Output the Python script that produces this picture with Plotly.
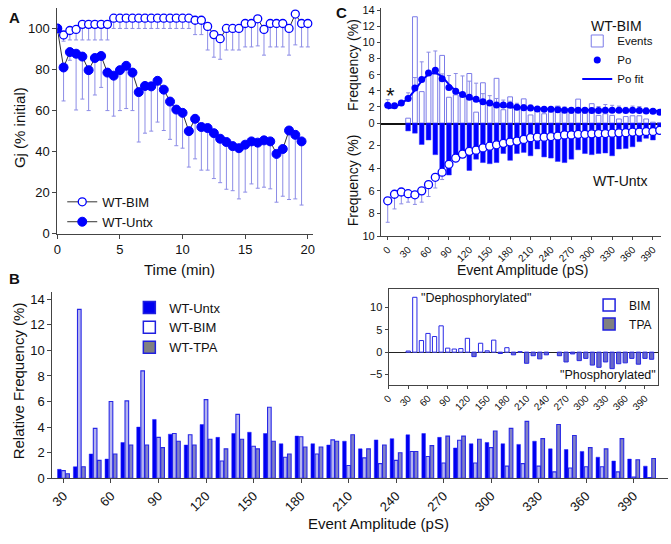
import plotly.graph_objects as go

W, H = 671, 544

# ---- panel A: Gj over time
time_bim = [i * 0.5 for i in range(41)]
time_untx = [i * 0.5 for i in range(40)]
gj_bim = [100, 96.8, 99, 99.5, 102, 102, 102, 102, 102,
          105, 105, 105, 105, 105, 105, 105, 105, 105, 105, 105, 105, 105,
          104, 104, 101, 97, 95, 100, 100, 100, 102.4, 102.4, 104.7, 99.5,
          102.4, 102.4, 102.4, 100, 107, 102.4, 102.4]
gj_bim_err = [0, 3, 4.6, 5.1, 7.6, 7.6, 7.6, 7.6, 7.6,
              5, 5, 5, 5, 5, 5, 5, 5, 5, 5, 5, 5, 5,
              7, 7, 11.5, 11, 10, 10.5, 10.5, 10.5, 11.4, 11.4, 13.2, 12.5,
              11.4, 11.4, 11.4, 13, 15, 11.4, 11.4]
gj_untx = [100, 81, 88.5, 87.7, 86.3, 79.7, 85.6, 86.6, 78.5, 77,
           79.7, 81.8, 78.5, 69, 72, 71.8, 74.5, 70.2, 64.4, 60.5,
           58.9, 50, 56, 52, 51.5, 49, 46.3, 44.7, 42.7, 41.7,
           43.4, 45, 44.4, 45.5, 45, 38.9, 41.3, 50.3, 48.2, 45]
gj_untx_err = [0, 16.3, 4, 27.4, 20.7, 19.7, 18, 15.3, 18.5, 19.7,
               19.7, 20.8, 18.5, 24.3, 23, 21.8, 20.1, 19.9, 18.4, 17.6,
               17.2, 17.5, 19.5, 21, 20.5, 22.1, 21.4, 23, 21.7, 24.7,
               23.1, 20.7, 22.2, 22.8, 23.1, 23.5, 23, 33.6, 31.2, 31]

# ---- panel B: amplitude histograms (%)
amp_bins = list(range(30, 401, 10))
freq_untx = [0.7, 0.9, 1.9, 1.5, 2.8, 4.0, 4.6, 3.45, 2.6, 4.2, 3.2, 3.5, 3.6,
             3.5, 2.7, 3.3, 2.7, 2.6, 2.9, 2.3, 3.0, 3.1, 3.4, 3.5, 3.2, 2.37,
             2.7, 2.8, 2.7, 2.65, 2.9, 2.3, 2.25, 2.1, 1.65, 1.35, 1.5, 0.95]
freq_bim = [0.6, 13.2, 3.9, 6.0, 6.05, 8.4, 3.2, 3.5, 3.4, 6.15, 1.35, 5.0, 2.5,
            5.55, 1.65, 3.25, 1.9, 3.0, 1.0, 1.6, 1.15, 1.4, 2.1, 1.7, 1.2, 2.97,
            1.2, 2.4, 0.95, 1.15, 0.95, 0.5, 0.8, 0.9, 0.9, 0.5, 0.1, 0.05]
freq_tpa = [0.35, 0.9, 1.4, 1.9, 2.6, 2.6, 2.4, 2.9, 2.6, 3.05, 2.3, 3.05, 2.3,
            2.9, 1.9, 2.45, 2.45, 2.9, 3.4, 2.3, 2.6, 2.0, 2.1, 2.55, 3.3, 3.3,
            3.05, 3.7, 3.9, 4.45, 3.1, 4.2, 3.35, 2.4, 2.3, 3.1, 1.45, 1.55]
# inset: BIM minus TPA
freq_diff = [0.25, 12.3, 2.6, 4.2, 3.5, 5.9, 0.9, 0.7, 0.8, 3.1, -1.0, 2.0, 0.3,
             2.7, -0.3, 1.0, -0.6, 0.1, -2.5, -0.8, -1.5, -0.6, 0.0, -0.8, -2.2,
             -0.4, -1.9, -1.4, -2.9, -3.4, -2.2, -3.7, -2.6, -2.4, -1.4, -2.7,
             -1.4, -1.6]

# ---- panel C: open probability vs amplitude
amp_po = list(range(0, 401, 10))
po_bim = [2.2, 2.15, 2.5, 3.05, 4.35, 5.4, 6.2, 6.55, 5.5, 4.4, 3.95, 3.55, 3.2,
          2.95, 2.65, 2.5, 2.25, 2.25, 2.2, 1.95, 1.9, 1.85, 1.75, 1.7, 1.7,
          1.65, 1.6, 1.6, 1.6, 1.6, 1.55, 1.55, 1.6, 1.6, 1.6, 1.55, 1.6, 1.55,
          1.5, 1.45, 1.35]
po_bim_err = [0.7, 0, 0, 0.7, 1.3, 2.2, 2.6, 2.4, 0.6, 1.5, 2.2, 2.3, 2.0, 2.0,
              1.0, 0.9, 0.8, 0.6, 0.5, 0.5, 0.4, 0.4, 0.3, 0.3, 0.3, 0.3, 0.4,
              0.3, 0.3, 0.3, 0.3, 0.5, 0.7, 0.6, 0.5, 0.4, 0.5, 0.5, 0.4, 0.3, 0.2]
po_fit = [1.8, 2.0, 2.4, 3.1, 4.1, 5.2, 6.0, 6.2, 5.7, 4.8, 4.0, 3.5, 3.15, 2.85,
          2.6, 2.4, 2.25, 2.1, 2.0, 1.95, 1.9, 1.85, 1.8, 1.75, 1.72, 1.7, 1.68,
          1.65, 1.63, 1.62, 1.6, 1.6, 1.58, 1.57, 1.56, 1.55, 1.54, 1.53, 1.52,
          1.51, 1.5]
po_untx = [6.88, 6.3, 6.1, 6.25, 6.35, 6.0, 5.45, 4.8, 4.35, 3.65, 3.1, 2.75,
           2.5, 2.4, 2.2, 2.05, 1.93, 1.8, 1.68, 1.6, 1.45, 1.3, 1.25, 1.25,
           1.2, 1.15, 1.05, 1.05, 1.0, 1.0, 0.96, 0.93, 0.93, 0.9, 0.87, 0.85,
           0.8, 0.8, 0.75, 0.75, 0.65]
po_untx_err = [1.9, 1.3, 1.05, 0.75, 0.85, 1.0, 1.05, 0.95, 0.65, 0.3, 0.2,
               0.2, 0.2, 0.2, 0.2, 0.2, 0.2, 0.2, 0.2, 0.2, 0.15, 0.15, 0.15,
               0.15, 0.15, 0.15, 0.15, 0.15, 0.15, 0.15, 0.15, 0.15, 0.15, 0.15,
               0.15, 0.15, 0.15, 0.15, 0.15, 0.15, 0.2]

BLUE = '#0000ff'
EDGE = '#2828e6'
ERR = '#8c8ce6'
FONT = 'Arial, Liberation Sans, sans-serif'


def px(x):
    return x / W


def py(y):
    return 1 - y / H


fig = go.Figure()

# A
fig.add_trace(go.Scatter(
    x=time_bim, y=gj_bim, mode='lines+markers', name='WT-BIM',
    line=dict(color='#333333', width=1),
    marker=dict(size=8, color='white', line=dict(color=BLUE, width=1.3)),
    error_y=dict(type='data', symmetric=False, array=[0] * len(gj_bim),
                 arrayminus=gj_bim_err, color=ERR, thickness=1, width=2),
    xaxis='x', yaxis='y', legend='legend'))
fig.add_trace(go.Scatter(
    x=time_untx, y=gj_untx, mode='lines+markers', name='WT-Untx',
    line=dict(color='#333333', width=1),
    marker=dict(size=9, color=BLUE, line=dict(color=BLUE, width=1)),
    error_y=dict(type='data', symmetric=False, array=[0] * len(gj_untx),
                 arrayminus=gj_untx_err, color=ERR, thickness=1, width=2),
    xaxis='x', yaxis='y', legend='legend'))

# B main
fig.add_trace(go.Bar(x=amp_bins, y=freq_untx, width=2.3, offset=-3.75,
                     marker=dict(color='#0000f0', line=dict(color='#2020ff', width=0.5)),
                     xaxis='x2', yaxis='y2', showlegend=False))
fig.add_trace(go.Bar(x=amp_bins, y=freq_bim, width=2.3, offset=-1.15,
                     marker=dict(color='#b4b4ee', line=dict(color=EDGE, width=1.1)),
                     xaxis='x2', yaxis='y2', showlegend=False))
fig.add_trace(go.Bar(x=amp_bins, y=freq_tpa, width=2.3, offset=1.45,
                     marker=dict(color='#8282c4', line=dict(color=EDGE, width=1.1)),
                     xaxis='x2', yaxis='y2', showlegend=False))
for name, fill in [('WT-Untx', '#0000f0'), ('WT-BIM', 'white'), ('WT-TPA', '#808080')]:
    fig.add_trace(go.Bar(x=[None], y=[None], name=name,
                         marker=dict(color=fill, line=dict(color='#2020e0', width=1.5)),
                         xaxis='x2', yaxis='y2', legend='legend2'))

# B inset
dephos = [v if v > 0 else None for v in freq_diff]
phos = [v if v < 0 else None for v in freq_diff]
fig.add_trace(go.Bar(x=amp_bins, y=dephos, width=6.5,
                     marker=dict(color='white', line=dict(color=EDGE, width=1)),
                     xaxis='x3', yaxis='y3', showlegend=False))
fig.add_trace(go.Bar(x=amp_bins, y=phos, width=6.5,
                     marker=dict(color='#6a6ac8', line=dict(color=EDGE, width=1)),
                     xaxis='x3', yaxis='y3', showlegend=False))
for name, fill in [('BIM', 'white'), ('TPA', '#808080')]:
    fig.add_trace(go.Bar(x=[None], y=[None], name=name,
                         marker=dict(color=fill, line=dict(color='#2020e0', width=1.5)),
                         xaxis='x3', yaxis='y3', legend='legend3'))

# C top (WT-BIM)
fig.add_trace(go.Bar(x=amp_bins, y=freq_bim, width=7, name='Events',
                     marker=dict(color='white', line=dict(color='#7b7be8', width=1)),
                     xaxis='x4', yaxis='y4', legend='legend4'))
fig.add_trace(go.Scatter(
    x=amp_po, y=po_bim, mode='markers', name='Po',
    marker=dict(size=7, color=BLUE),
    error_y=dict(type='data', symmetric=False, array=po_bim_err,
                 arrayminus=[0] * len(po_bim), color=ERR, thickness=1, width=2),
    xaxis='x4', yaxis='y4', legend='legend4'))
fig.add_trace(go.Scatter(x=amp_po, y=po_fit, mode='lines', name='Po fit',
                         line=dict(color=BLUE, width=2, shape='spline'),
                         xaxis='x4', yaxis='y4', legend='legend4'))

# C bottom (WT-Untx)
fig.add_trace(go.Bar(x=amp_bins, y=freq_untx, width=7,
                     marker=dict(color=BLUE, line=dict(color='#3030ff', width=0.5)),
                     xaxis='x5', yaxis='y5', showlegend=False))
fig.add_trace(go.Scatter(
    x=amp_po, y=po_untx, mode='markers',
    marker=dict(size=8, color='white', line=dict(color=BLUE, width=1.3)),
    error_y=dict(type='data', symmetric=False, array=po_untx_err,
                 arrayminus=[0] * len(po_untx), color=ERR, thickness=1, width=2),
    xaxis='x5', yaxis='y5', showlegend=False))

AX = dict(showline=True, linecolor='#444444', linewidth=1, ticks='outside',
          ticklen=4, tickcolor='#444444', showgrid=False, zeroline=False,
          tickfont=dict(size=13, color='#111111'))
SMALL = dict(AX, ticklen=3, tickfont=dict(size=11, color='#111111'))
TINY = dict(AX, ticklen=3, tickfont=dict(size=10, color='#111111'))

fig.update_layout(
    width=W, height=H, margin=dict(l=0, r=0, t=0, b=0),
    paper_bgcolor='white', plot_bgcolor='white', barmode='overlay',
    font=dict(family=FONT, color='#111111'),
    xaxis=dict(AX, domain=[px(51), px(310)], range=[0, 20.4], anchor='y',
               tickvals=[0, 5, 10, 15, 20]),
    yaxis=dict(AX, domain=[py(235), py(4)], range=[0, 110], anchor='x',
               tickvals=[0, 20, 40, 60, 80, 100]),
    xaxis2=dict(AX, domain=[px(46), px(670)], range=[23, 411.7], anchor='y2',
                tickvals=list(range(30, 391, 30)), tickangle=-45),
    yaxis2=dict(AX, domain=[py(485), py(294)], range=[0, 14.6], anchor='x2',
                tickvals=list(range(0, 15, 2))),
    xaxis3=dict(TINY, domain=[px(386.7), px(660)], range=[0, 410], anchor='y3',
                tickvals=list(range(0, 391, 30)), tickangle=-45, mirror=True),
    yaxis3=dict(SMALL, domain=[py(389.3), py(291.7)], range=[-7.3, 14.1],
                anchor='x3', tickvals=[-5, 0, 5, 10], mirror=True,
                zeroline=True, zerolinecolor='#222222', zerolinewidth=1),
    xaxis4=dict(domain=[px(379), px(663)], range=[-10, 402], anchor='y4',
                showline=True, linecolor='#111111', linewidth=1.5,
                showticklabels=False, ticks='', showgrid=False, zeroline=False),
    yaxis4=dict(SMALL, domain=[py(121.7), py(4)], range=[0, 14.3], anchor='x4',
                tickvals=list(range(0, 15, 2))),
    xaxis5=dict(TINY, domain=[px(379), px(663)], range=[-10, 402], anchor='y5',
                tickvals=list(range(0, 391, 30)), tickangle=-45),
    yaxis5=dict(SMALL, domain=[py(237.3), py(121.7)], range=[10, 0], anchor='x5',
                tickvals=[2, 4, 6, 8, 10]),
    legend=dict(x=px(56), y=py(187), xanchor='left', yanchor='top',
                font=dict(size=13), bgcolor='rgba(0,0,0,0)', itemwidth=30),
    legend2=dict(x=px(124), y=py(295), xanchor='left', yanchor='top',
                 font=dict(size=13), bgcolor='rgba(0,0,0,0)', itemwidth=30),
    legend3=dict(x=px(590), y=py(293), xanchor='left', yanchor='top',
                 font=dict(size=12), bgcolor='rgba(0,0,0,0)', itemwidth=30),
    legend4=dict(x=px(578), y=py(23), xanchor='left', yanchor='top',
                 font=dict(size=11.5), bgcolor='rgba(0,0,0,0)', itemwidth=30),
)


def note(text, x, y, size=14, angle=0, bold=False, xanchor='center'):
    if bold:
        text = '<b>' + text + '</b>'
    fig.add_annotation(text=text, x=px(x), y=py(y), xref='paper', yref='paper',
                       showarrow=False, textangle=angle, xanchor=xanchor,
                       yanchor='middle', font=dict(size=size, color='#111111'))


note('A', 8, 14, size=15, bold=True)
note('B', 8, 281, size=15, bold=True)
note('C', 339, 9, size=15, bold=True)
note('Gj (% initial)', 12, 126, size=15, angle=-90)
note('Time (min)', 175, 271, size=15)
note('Relative Frequency (%)', 12, 385, size=15, angle=-90)
note('Event Amplitude (pS)', 377, 531, size=15)
note('Frequency (%)', 350, 62, size=14, angle=-90)
note('Frequency (%)', 351, 180, size=14, angle=-90)
note('Event Amplitude (pS)', 523, 272, size=14)
note('WT-BIM', 618, 22, size=14)
note('WT-Untx', 621, 181, size=14)
note('*', 389, 94, size=22)
note('"Dephosphorylated"', 418, 301, size=12.5, xanchor='left')
note('"Phosphorylated"', 660, 379, size=12.5, xanchor='right')

# page body has a default 8px margin; drop it so the figure fills the window
fig.write_html('out.html', config={'displayModeBar': False},
               post_script="document.body.style.margin='0';"
                           "document.body.style.overflow='hidden';")
